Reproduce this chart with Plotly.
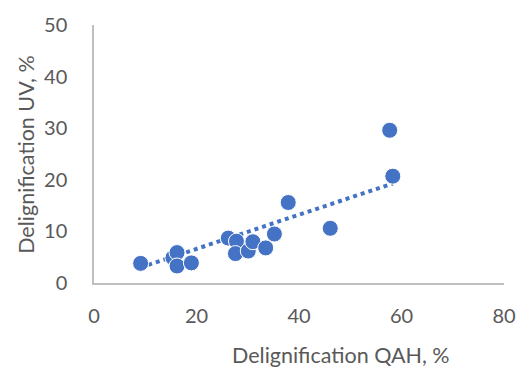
import numpy as np
import plotly.graph_objects as go

qah = [9.1, 15.4, 16.2, 16.2, 19.0, 26.2, 27.8, 27.6, 30.1, 31.0, 33.5, 35.2, 37.9, 46.1, 57.7, 58.3]
uv = [3.8, 4.9, 5.9, 3.3, 3.9, 8.7, 8.1, 5.7, 6.2, 8.0, 6.8, 9.5, 15.6, 10.6, 29.6, 20.7]
x_ticks = [0, 20, 40, 60, 80]
y_ticks = [0, 10, 20, 30, 40, 50]
x_title = "Delignification QAH, %"
y_title = "Delignification UV, %"

blue = "#4472C4"
txt = "#595959"
font = "Lato"

# linear trendline through the origin (y = b*x)
xa = np.array(qah)
ya = np.array(uv)
b = float((xa * ya).sum() / (xa * xa).sum())
tx = np.array([xa.min(), xa.max()])
ty = b * tx

fig = go.Figure()
fig.add_trace(go.Scatter(x=tx, y=ty, mode="lines",
                         line=dict(color=blue, width=4, dash="4px,4px"), hoverinfo="skip"))
fig.add_trace(go.Scatter(x=qah, y=uv, mode="markers",
                         marker=dict(color=blue, size=16, line=dict(color="white", width=1))))

fig.update_layout(
    width=528, height=374,
    margin=dict(l=94, r=13, t=17, b=91),
    paper_bgcolor="white", plot_bgcolor="white",
    showlegend=False,
    font=dict(family=font, size=20, color=txt),
    xaxis=dict(range=[0, 80], tickvals=x_ticks, showgrid=False, zeroline=False,
               showline=True, linecolor="#BFBFBF", linewidth=1.5, ticks="",
               ticklabelstandoff=14, tickfont=dict(size=20, color=txt, family=font)),
    yaxis=dict(range=[0, 50], tickvals=y_ticks, showgrid=False, zeroline=False,
               showline=True, linecolor="#BFBFBF", linewidth=1.5, ticks="",
               ticklabelstandoff=21, tickfont=dict(size=20, color=txt, family=font)),
    annotations=[
        dict(text=x_title, xref="paper", yref="paper", x=(347.5 - 94) / 421, y=-(357 - 283) / 266,
             xanchor="center", yanchor="middle", showarrow=False,
             font=dict(size=21.5, color=txt, family=font)),
        dict(text=y_title, xref="paper", yref="paper", x=-(94 - 24) / 421, y=0.5,
             xanchor="center", yanchor="middle", textangle=-90, showarrow=False,
             font=dict(size=21.5, color=txt, family=font)),
    ],
)
fig.write_html("out.html")
